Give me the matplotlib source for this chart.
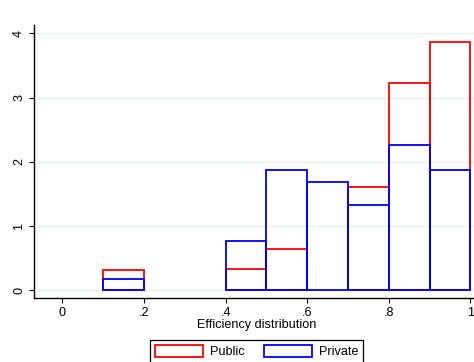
import matplotlib
matplotlib.use("Agg")
import matplotlib.pyplot as plt
from matplotlib.patches import Patch

plt.rcParams['font.family'] = ['Liberation Sans', 'DejaVu Sans']
plt.rcParams['font.size'] = 9.1

# density histogram, bin width 0.1
bin_left = [0.1, 0.2, 0.3, 0.4, 0.5, 0.6, 0.7, 0.8, 0.9]
public   = [0.32, 0, 0, 0.33, 0.64, 0, 1.61, 3.23, 3.86]
private  = [0.18, 0, 0, 0.76, 1.88, 1.69, 1.32, 2.26, 1.88]
xticks = [0, 0.2, 0.4, 0.6, 0.8, 1.0]
xticklabels = ['0', '.2', '.4', '.6', '.8', '1']
yticks = [0, 1, 2, 3, 4]

W, H = 474, 362
fig = plt.figure(figsize=(W / 100, H / 100), dpi=100)
ax = fig.add_axes([34.3 / W, 1 - 298.3 / H, (479 - 34.3) / W, (298.3 - 25) / H])

def draw(vals, col):
    xs = [b for b, v in zip(bin_left, vals) if v > 0]
    hs = [v for v in vals if v > 0]
    ax.bar(xs, hs, width=0.1, align='edge', fill=False,
           edgecolor=col, linewidth=1.3, zorder=3)

draw(public, '#ff0000')
draw(private, '#0000ff')

ax.set_xlim(-0.069, 1.021)
ax.set_ylim(-0.125, 4.13)

for y in yticks:
    ax.axhline(y, color='#eaf2f3', linewidth=1.0, zorder=1)

ax.set_xticks(xticks)
ax.set_xticklabels(xticklabels)
ax.set_yticks(yticks)
ax.tick_params(axis='both', length=3.6, width=0.8, color='black', labelsize=9.1)
ax.tick_params(axis='x', pad=3)
ax.tick_params(axis='y', pad=3)
for lab in ax.get_yticklabels():
    lab.set_rotation(90)
    lab.set_va('center')

ax.spines['top'].set_visible(False)
ax.spines['right'].set_visible(False)
ax.spines['left'].set_linewidth(1.0)
ax.spines['bottom'].set_linewidth(1.0)

ax.set_xlabel('Efficiency distribution', fontsize=9.1, labelpad=0)

handles = [Patch(facecolor='white', edgecolor='#ff0000', linewidth=1.3, label='Public'),
           Patch(facecolor='white', edgecolor='#0000ff', linewidth=1.3, label='Private')]
leg = fig.legend(handles=handles, loc='upper center', ncol=2,
                 bbox_to_anchor=(256.8 / W, 1 - 340 / H), borderaxespad=0,
                 fancybox=False, framealpha=1, edgecolor='black',
                 handlelength=3.8, handleheight=1.1, handletextpad=0.55,
                 columnspacing=1.5, borderpad=0.4, fontsize=9.1)
leg.get_frame().set_linewidth(0.9)

fig.savefig('out.png', dpi=100, facecolor='white')
